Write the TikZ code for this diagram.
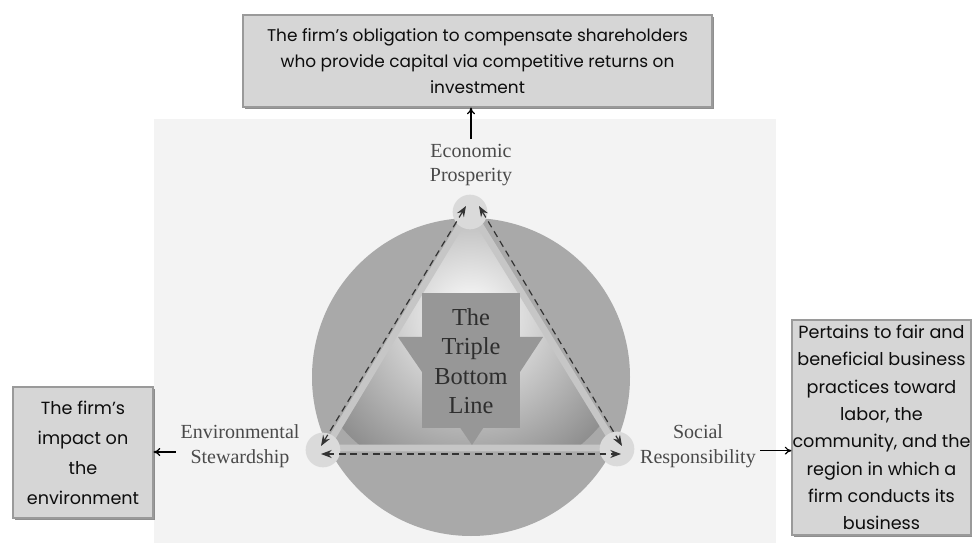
\documentclass[tikz,border=0pt]{standalone}
\usepackage{fontspec}
\setmainfont{Liberation Serif}
\newfontfamily\boxfont{Poppins}
\usetikzlibrary{arrows.meta,shadows}
\definecolor{bgc}{HTML}{F3F3F3}
\definecolor{circc}{HTML}{A9A9A9}
\definecolor{arrc}{HTML}{979797}
\definecolor{bandc}{HTML}{C6C6C6}
\definecolor{haloc}{HTML}{DADADA}
\definecolor{shout}{HTML}{8E8E8E}
\definecolor{labc}{HTML}{4A4A4A}
\definecolor{tblc}{HTML}{2E2E2E}
\definecolor{boxc}{HTML}{D6D6D6}
\definecolor{boxd}{HTML}{9A9A9A}
\definecolor{dashc}{HTML}{333333}
\begin{document}
\begin{tikzpicture}[x=0.75pt,y=-0.75pt,
  infobox/.style={draw=boxd, line width=0.8pt, fill=boxc, align=center,
    inner sep=0pt, text=black!95,
    drop shadow={shadow xshift=1.6pt, shadow yshift=-1.8pt, fill=black!55, opacity=0.8}},
  pillar/.style={align=center, text=labc, font=\fontsize{15pt}{18.4pt}\selectfont},
  link/.style={-{To[length=5pt,width=6pt]}, line width=0.9pt, black},
  dashlink/.style={{Stealth[length=8pt,width=6pt]}-{Stealth[length=8pt,width=6pt]},
    dashc, line width=0.9pt, dash pattern=on 5pt off 3.5pt}
]
\useasboundingbox (0,0) rectangle (972,545);
% background panel
\fill[bgc] (154,119) rectangle (776,543);
% big circle
\fill[circc] (471,377) circle[radius=119.25pt];
% triangle with gradient
\coordinate (ta) at (470,209);
\coordinate (tb) at (326,448);
\coordinate (tc) at (617,448);
\begin{scope}
  \clip (ta) -- (tb) -- (tc) -- cycle;
  \shade[inner color=white, outer color=shout] (470,315) circle[radius=128pt];
\end{scope}
\draw[bandc, line width=5pt, line join=round] (ta) -- (tb) -- (tc) -- cycle;
% halos
\fill[haloc] (470,212) circle[radius=13pt];
\fill[haloc] (323,450) circle[radius=13pt];
\fill[haloc] (617,449) circle[radius=13pt];
% central arrow
\fill[arrc] (422,293) rectangle (520,428);
\fill[arrc] (398,337) -- (543,337) -- (472,445) -- cycle;
\node[align=center, text=tblc, font=\fontsize{18.3pt}{22pt}\selectfont] (tbl) at (471,361) {The\\Triple\\Bottom\\Line};
% dashed arrows
\coordinate (a1) at (466,206);
\coordinate (b1) at (321,446);
\coordinate (a2) at (479,206);
\coordinate (c1) at (622,446);
\coordinate (b2) at (321,454);
\coordinate (c2) at (621,454);
\draw[dashlink] (a1) -- (b1);
\draw[dashlink] (a2) -- (c1);
\draw[dashlink] (b2) -- (c2);
% pillar labels
\node[pillar] (econ) at (471,165) {Economic\\Prosperity};
\node[pillar] (env) at (240,446) {Environmental\\Stewardship};
\node[pillar] (soc) at (698,446) {Social\\Responsibility};
% info boxes
\node[infobox, minimum width=469*0.75pt, minimum height=92*0.75pt,
  font=\boxfont\fontsize{12.7pt}{19.5pt}\selectfont] (topbox) at (477.5,61)
  {The firm’s obligation to compensate shareholders\\who provide capital via competitive returns on\\investment};
\node[infobox, minimum width=140*0.75pt, minimum height=131*0.75pt,
  font=\boxfont\fontsize{13.2pt}{22.5pt}\selectfont] (leftbox) at (83,452.5)
  {The firm’s\\impact on\\the\\environment};
\node[infobox, minimum width=179*0.75pt, minimum height=215*0.75pt,
  font=\boxfont\fontsize{13.2pt}{20.5pt}\selectfont] (rightbox) at (881.5,427.5)
  {Pertains to fair and\\beneficial business\\practices toward\\labor, the\\community, and the\\region in which a\\firm conducts its\\business};
% connectors
\draw[link] (econ.north) -- (econ.north |- topbox.south);
\draw[link] ([yshift=-4.5pt]env.west) -- ([yshift=-4.5pt]env.west -| leftbox.east);
\draw[link] ([yshift=-3.5pt]soc.east) -- ([yshift=-3.5pt]soc.east -| rightbox.west);
\end{tikzpicture}
\end{document}
